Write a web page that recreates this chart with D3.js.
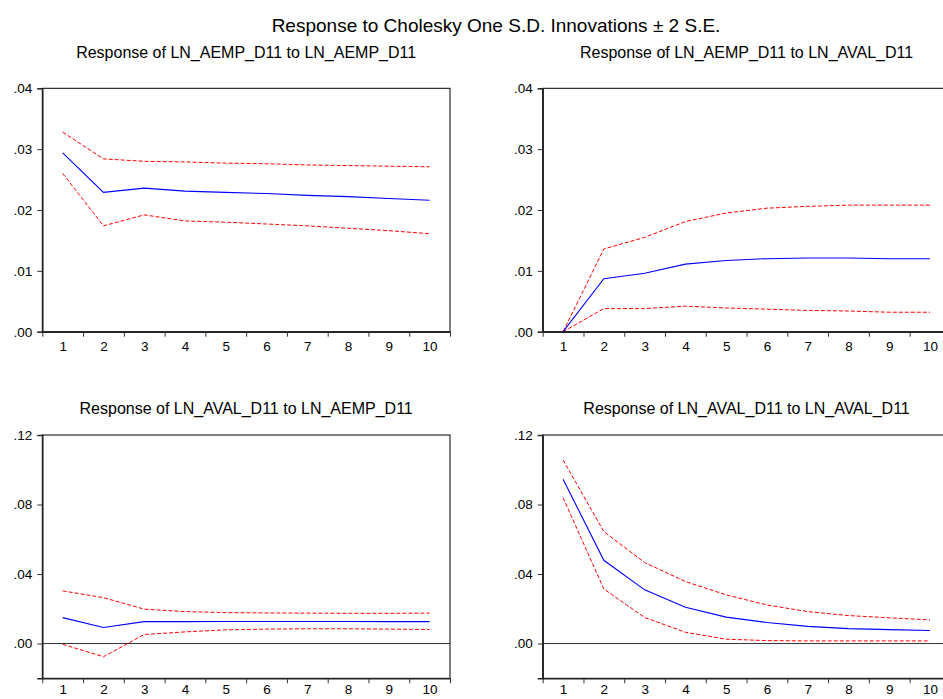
<!DOCTYPE html>
<html><head><meta charset="utf-8">
<script src="https://cdn.jsdelivr.net/npm/d3@7"></script>
<style>
body{margin:0;background:#fff;}
svg{display:block;font-family:Arial,"Liberation Sans",sans-serif;}
</style></head>
<body>
<svg id="c" width="943" height="699"></svg>
<script>
const periods = [1,2,3,4,5,6,7,8,9,10];
const mainTitle = "Response to Cholesky One S.D. Innovations \u00B1 2 S.E.";
const panelTitles = [
  "Response of LN_AEMP_D11 to LN_AEMP_D11",
  "Response of LN_AEMP_D11 to LN_AVAL_D11",
  "Response of LN_AVAL_D11 to LN_AEMP_D11",
  "Response of LN_AVAL_D11 to LN_AVAL_D11"
];
const topTicks = [0, 0.01, 0.02, 0.03, 0.04];
const topTickLabels = [".00", ".01", ".02", ".03", ".04"];
const botTicks = [0, 0.04, 0.08, 0.12];
const botTickLabels = [".00", ".04", ".08", ".12"];

// Panel 1: LN_AEMP_D11 -> LN_AEMP_D11
const p1Resp  = [0.0294, 0.0229, 0.0236, 0.0231, 0.0229, 0.0227, 0.0224, 0.0222, 0.0219, 0.0216];
const p1Upper = [0.0328, 0.0284, 0.0280, 0.0279, 0.0277, 0.0276, 0.0274, 0.0273, 0.0272, 0.0271];
const p1Lower = [0.0260, 0.0174, 0.0192, 0.0182, 0.0180, 0.0177, 0.0174, 0.0170, 0.0166, 0.0161];
// Panel 2: LN_AEMP_D11 -> LN_AVAL_D11
const p2Resp  = [0.0000, 0.0087, 0.0096, 0.0111, 0.0117, 0.0120, 0.0121, 0.0121, 0.0120, 0.0120];
const p2Upper = [0.0000, 0.0136, 0.0155, 0.0181, 0.0195, 0.0203, 0.0206, 0.0208, 0.0208, 0.0208];
const p2Lower = [0.0000, 0.0038, 0.0038, 0.0042, 0.0039, 0.0037, 0.0035, 0.0034, 0.0032, 0.0032];
// Panel 3: LN_AVAL_D11 -> LN_AEMP_D11
const p3Resp  = [0.0149, 0.0092, 0.0126, 0.0126, 0.0127, 0.0127, 0.0127, 0.0127, 0.0126, 0.0126];
const p3Upper = [0.0303, 0.0264, 0.0198, 0.0184, 0.0178, 0.0176, 0.0175, 0.0174, 0.0174, 0.0175];
const p3Lower = [-0.0004, -0.0076, 0.0052, 0.0067, 0.0079, 0.0083, 0.0085, 0.0085, 0.0083, 0.0081];
// Panel 4: LN_AVAL_D11 -> LN_AVAL_D11
const p4Resp  = [0.0945, 0.0479, 0.0309, 0.0209, 0.0152, 0.0121, 0.0099, 0.0086, 0.0080, 0.0075];
const p4Upper = [0.1056, 0.0644, 0.0466, 0.0357, 0.0280, 0.0222, 0.0184, 0.0161, 0.0148, 0.0136];
const p4Lower = [0.0839, 0.0314, 0.0150, 0.0065, 0.0025, 0.0017, 0.0015, 0.0015, 0.0015, 0.0015];

const panels = [
  {title: panelTitles[0], resp: p1Resp, up: p1Upper, lo: p1Lower, dom: [0, 0.04], ticks: topTicks, labels: topTickLabels, zero: false,
   box: {l: 42.3, r: 450, t: 88.3, b: 331.7}, titleY: 58, pad: 10},
  {title: panelTitles[1], resp: p2Resp, up: p2Upper, lo: p2Lower, dom: [0, 0.04], ticks: topTicks, labels: topTickLabels, zero: false,
   box: {l: 542.7, r: 950.4, t: 88.3, b: 331.7}, titleY: 58, pad: 10},
  {title: panelTitles[2], resp: p3Resp, up: p3Upper, lo: p3Lower, dom: [-0.02, 0.12], ticks: botTicks, labels: botTickLabels, zero: true,
   box: {l: 42.3, r: 450, t: 435, b: 678.3}, titleY: 413.5, pad: 6},
  {title: panelTitles[3], resp: p4Resp, up: p4Upper, lo: p4Lower, dom: [-0.02, 0.12], ticks: botTicks, labels: botTickLabels, zero: true,
   box: {l: 542.7, r: 950.4, t: 435, b: 678.3}, titleY: 413.5, pad: 6}
];

const svg = d3.select("#c");
svg.append("text").attr("x", 496).attr("y", 31.7).attr("text-anchor", "middle")
  .attr("font-size", 19).attr("fill", "#000").text(mainTitle);

panels.forEach(p => {
  const b = p.box;
  const x = d3.scaleLinear().domain([0.5, 10.5]).range([b.l, b.r]);
  const y = d3.scaleLinear().domain(p.dom).range([b.b, b.t]);
  const g = svg.append("g");

  g.append("text").attr("x", (b.l + b.r) / 2).attr("y", p.titleY).attr("text-anchor", "middle")
    .attr("font-size", 16).attr("fill", "#000").text(p.title);

  if (p.zero) {
    g.append("line").attr("x1", b.l).attr("x2", b.r).attr("y1", y(0)).attr("y2", y(0))
      .attr("stroke", "#333").attr("stroke-width", 1);
  }

  const line = d3.line().x((d, i) => x(periods[i])).y(d => y(d));
  g.append("path").datum(p.up).attr("d", line).attr("fill", "none")
    .attr("stroke", "#ff0000").attr("stroke-width", 1).attr("stroke-dasharray", "4,2");
  g.append("path").datum(p.lo).attr("d", line).attr("fill", "none")
    .attr("stroke", "#ff0000").attr("stroke-width", 1).attr("stroke-dasharray", "4,2");
  g.append("path").datum(p.resp).attr("d", line).attr("fill", "none")
    .attr("stroke", "#0000ff").attr("stroke-width", 1.1);

  // frame
  g.append("rect").attr("x", b.l).attr("y", b.t).attr("width", b.r - b.l).attr("height", b.b - b.t)
    .attr("fill", "none").attr("stroke", "#000").attr("stroke-width", 1);

  // y axis
  const ya = g.append("g").attr("transform", `translate(${b.l},0)`)
    .call(d3.axisLeft(y).tickValues(p.ticks).tickFormat((d, i) => p.labels[i]).tickSize(5).tickPadding(5));
  ya.select(".domain").attr("stroke", "#222").attr("stroke-width", 1.5);
  ya.selectAll(".tick line").attr("stroke", "#333");
  ya.selectAll("text").attr("font-size", 13.5).attr("fill", "#000").attr("font-family", "Arial, 'Liberation Sans', sans-serif");

  // x axis: ticks at band edges
  const edges = d3.range(0.5, 11, 1);
  const xa = g.append("g").attr("transform", `translate(0,${b.b})`)
    .call(d3.axisBottom(x).tickValues(edges).tickFormat("").tickSize(5).tickSizeOuter(0));
  xa.select(".domain").attr("stroke", "#222").attr("stroke-width", 1.5);
  xa.selectAll(".tick line").attr("stroke", "#333");
  const xl = g.append("g").attr("transform", `translate(0,${b.b})`)
    .call(d3.axisBottom(x).tickValues(periods).tickFormat(d3.format("d")).tickSize(0).tickPadding(p.pad));
  xl.select(".domain").remove();
  xl.selectAll("text").attr("font-size", 13.5).attr("fill", "#000").attr("font-family", "Arial, 'Liberation Sans', sans-serif");
});
</script>
</body></html>
